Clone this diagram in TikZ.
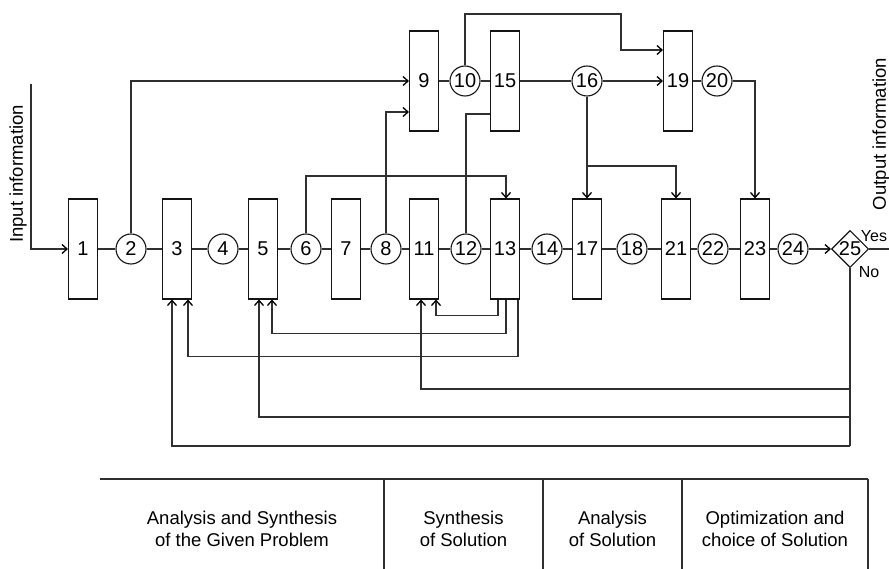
\documentclass[tikz,border=0pt]{standalone}
\usepackage{fontspec}
\setsansfont{Liberation Sans}
\usepackage{tikz}
\usetikzlibrary{arrows.meta,positioning,shapes.geometric}
\definecolor{FlowLine}{HTML}{303030}
\definecolor{FlowEdge}{HTML}{141414}

\begin{document}
\begin{tikzpicture}[x=1pt,y=-1pt,font=\sffamily\fontsize{18.5}{22}\selectfont,
  num/.style={font=\sffamily\fontsize{20}{22}\selectfont},
  blk/.style={num,draw=FlowEdge,line width=1.1pt,minimum width=29,minimum height=100,inner sep=0},
  circ/.style={num,circle,draw=FlowEdge,line width=1.1pt,minimum size=30,inner sep=0},
  dec/.style={diamond,draw=FlowEdge,line width=1.1pt,minimum width=37,minimum height=37,inner sep=0},
  ln/.style={draw=FlowLine,line width=1.1pt},
  arr/.style={-{Straight Barb[length=5pt,width=9pt,line width=1.3pt,color=black]}},
  small/.style={font=\sffamily\fontsize{16}{19}\selectfont}]
  \useasboundingbox (0,0) rectangle (889,569);

  % main row
  \node[blk]  (b1)  at (83,249) {1};
  \node[circ] (c2)  at (131,249) {2};
  \node[blk]  (b3)  at (177,249) {3};
  \node[circ] (c4)  at (223,249) {4};
  \node[blk]  (b5)  at (263,249) {5};
  \node[circ] (c6)  at (306,249) {6};
  \node[blk]  (b7)  at (346,249) {7};
  \node[circ] (c8)  at (386,249) {8};
  \node[blk]  (b11) at (424,249) {11};
  \node[circ] (c12) at (466,249) {12};
  \node[blk]  (b13) at (505,249) {13};
  \node[circ] (c14) at (547,249) {14};
  \node[blk]  (b17) at (587,249) {17};
  \node[circ] (c18) at (632,249) {18};
  \node[blk]  (b21) at (676,249) {21};
  \node[circ] (c22) at (713,249) {22};
  \node[blk]  (b23) at (755,249) {23};
  \node[circ] (c24) at (793,249) {24};
  \node[dec]  (n25) at (850,249) {};
  \node[num] (t25) at (n25) {25};

  % upper row
  \node[blk]  (b9)  at (424,81) {9};
  \node[circ] (c10) at (465,81) {10};
  \node[blk]  (b15) at (505,81) {15};
  \node[circ] (c16) at (587,81) {16};
  \node[blk]  (b19) at (678,81) {19};
  \node[circ] (c20) at (717,81) {20};

  \draw[ln] (b1) -- (c2) -- (b3) -- (c4) -- (b5) -- (c6) -- (b7) -- (c8) -- (b11) -- (c12)
    -- (b13) -- (c14) -- (b17) -- (c18) -- (b21) -- (c22) -- (b23) -- (c24);
  \draw[ln,arr] (c24) -- (n25);
  \draw[ln] (b9) -- (c10) -- (b15) -- (c16);
  \draw[ln,arr] (c16) -- (b19);
  \draw[ln] (b19) -- (c20);

  % input and output
  \coordinate (inTop) at (31,84);
  \draw[ln,arr] (inTop) |- (b1);
  \node[rotate=90] (inLbl) at (18,174) {Input information};
  \node[rotate=90] (outLbl) at (881,134) {Output information};
  \coordinate (outEnd) at (889,249);
  \draw[ln] (n25.east) -- (outEnd);
  \node[small] (yes) at (874,236) {Yes};
  \node[small] (no) at (869,272) {No};

  % forward links
  \draw[ln,arr] (c2) |- (b9);
  \draw[ln,arr] (c8) |- ([yshift=-31pt]b9.west);
  \draw[ln] (c12) |- ([yshift=-33pt]b15.west);
  \draw[ln,arr] (c6) |- ([xshift=1pt]b13.north |- 0,176) -- ([xshift=1pt]b13.north);
  \draw[ln,arr] (c10) |- (621,14) |- ([yshift=31pt]b19.west);
  \draw[ln,arr] (c16) -- (b17);
  \draw[ln,arr] (c16 |- 0,166) -| (b21.north);
  \draw[ln,arr] (c20) -| (b23.north);

  % feedback from 13
  \draw[ln,arr] ([xshift=-7pt]b13.south) -- ++(0,16) -| ([xshift=12pt]b11.south);
  \draw[ln,arr] ([xshift=1pt]b13.south) -- ++(0,34) -| ([xshift=9pt]b5.south);
  \draw[ln,arr] ([xshift=13pt]b13.south) -- ++(0,57) -| ([xshift=11pt]b3.south);

  % feedback from 25
  \draw[ln] (n25.south) -- (n25 |- 0,446);
  \draw[ln,arr] (n25 |- 0,389) -| ([xshift=-3pt]b11.south);
  \draw[ln,arr] (n25 |- 0,417) -| ([xshift=-4pt]b5.south);
  \draw[ln,arr] (n25 |- 0,446) -| ([xshift=-5pt]b3.south);

  % stages table
  \draw[ln] (100,479) -- (868,479);
  \foreach \x in {384,543,682,868} \draw[ln] (\x,479) -- (\x,569);
  \node[align=center] (tA) at (242,529) {Analysis and Synthesis\\of the Given Problem};
  \node[align=center] (tB) at (463.5,529) {Synthesis\\of Solution};
  \node[align=center] (tC) at (612.5,529) {Analysis\\of Solution};
  \node[align=center] (tD) at (775,529) {Optimization and\\choice of Solution};
\end{tikzpicture}
\end{document}
